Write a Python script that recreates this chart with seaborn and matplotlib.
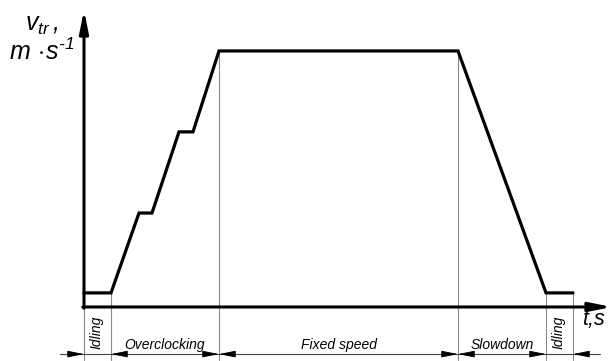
import matplotlib
matplotlib.use("Agg")
import matplotlib.pyplot as plt
import numpy as np
import pandas as pd
import seaborn as sns

# Train speed profile: time breakpoints (s) and relative speed
time_s = [0.0, 2.7, 5.5, 6.8, 9.5, 10.9, 13.5, 37.4, 46.2, 48.9]
speed = [0.055, 0.055, 0.367, 0.367, 0.684, 0.684, 1.0, 1.0, 0.055, 0.055]

# Motion phases along the time axis
phase_names = ["Idling", "Overclocking", "Fixed speed", "Slowdown", "Idling"]
phase_bounds = [0.0, 2.7, 13.5, 37.4, 46.2, 48.9]
phase_vertical = [True, False, False, False, True]

sns.set_theme(style="white")
plt.rcParams["font.family"] = ["Liberation Sans", "DejaVu Sans"]
plt.rcParams["mathtext.fontset"] = "custom"
plt.rcParams["mathtext.it"] = "Liberation Sans:italic"
plt.rcParams["mathtext.rm"] = "Liberation Sans:italic"

W, H = 613, 361
fig = plt.figure(figsize=(W / 100, H / 100), dpi=100)
ax = fig.add_axes([0, 0, 1, 1])

df = pd.DataFrame({"t": time_s, "v": speed})

# Thin extension lines at each phase boundary
dim_y = -0.184
ext_bottom = -0.207
t_arr = np.array(time_s)
v_arr = np.array(speed)
for b in phase_bounds:
    top = 0.0 if b == 0 else float(np.interp(b, t_arr, v_arr))
    ax.plot([b, b], [ext_bottom, top], color="#8a8a8a", lw=0.8, zorder=1)

# Dimension line
ax.plot([-2.4, 51.6], [dim_y, dim_y], color="#444444", lw=0.8, zorder=1)

head = "-|>,head_length=0.85,head_width=0.17"
alen = 1.2


def dim_arrow(x_tip, direction):
    ax.annotate("", xy=(x_tip, dim_y), xytext=(x_tip - direction * alen, dim_y),
                arrowprops=dict(arrowstyle=head, color="black", lw=0.6,
                                shrinkA=0, shrinkB=0), zorder=2)


# Arrowheads: right-pointing (+1) ends and left-pointing (-1) starts
dim_arrow(phase_bounds[0], +1)
dim_arrow(phase_bounds[1], -1)
dim_arrow(phase_bounds[2], +1)
dim_arrow(phase_bounds[2], -1)
dim_arrow(phase_bounds[3], +1)
dim_arrow(phase_bounds[3], -1)
dim_arrow(phase_bounds[4], +1)
dim_arrow(phase_bounds[5], -1)

# Phase labels
for name, a, b, vert in zip(phase_names, phase_bounds[:-1], phase_bounds[1:], phase_vertical):
    mid = (a + b) / 2
    if vert:
        ax.text(mid - 0.1, -0.098, name, rotation=90, ha="center", va="center",
                fontsize=10, fontstyle="italic", color="black", zorder=6)
    else:
        ax.text(mid, -0.150, name, ha="center", va="center",
                fontsize=10, fontstyle="italic", color="black", zorder=6)

# Coordinate axes with arrowheads
axis_head = "-|>,head_length=1.1,head_width=0.22"
ax.annotate("", xy=(52.8, 0), xytext=(-0.12, 0),
            arrowprops=dict(arrowstyle=axis_head, color="black", lw=2.2,
                            shrinkA=0, shrinkB=0), zorder=4)
ax.annotate("", xy=(0, 1.16), xytext=(0, -0.005),
            arrowprops=dict(arrowstyle=axis_head, color="black", lw=2.2,
                            shrinkA=0, shrinkB=0), zorder=4)

# Speed profile
sns.lineplot(data=df, x="t", y="v", sort=False, estimator=None, color="black",
             lw=2.3, ax=ax, solid_joinstyle="miter", zorder=5)
ax.set_xlim(-8.4, 52.9)
ax.set_ylim(-0.211, 1.199)
ax.set_axis_off()

# Axis titles
fig.text(42 / W, 1 - 60 / H,
         r"$v_{tr}\,,$" + "\n" + r"$m\,\cdot\! s^{\text{-}1}$",
         fontsize=18, ha="center", va="baseline", multialignment="center",
         linespacing=1.08, color="black")
fig.text(582 / W, 1 - 325 / H, "t,s", fontsize=15.5, fontstyle="italic",
         ha="left", va="baseline", color="black")

fig.savefig("out.png", dpi=100)
